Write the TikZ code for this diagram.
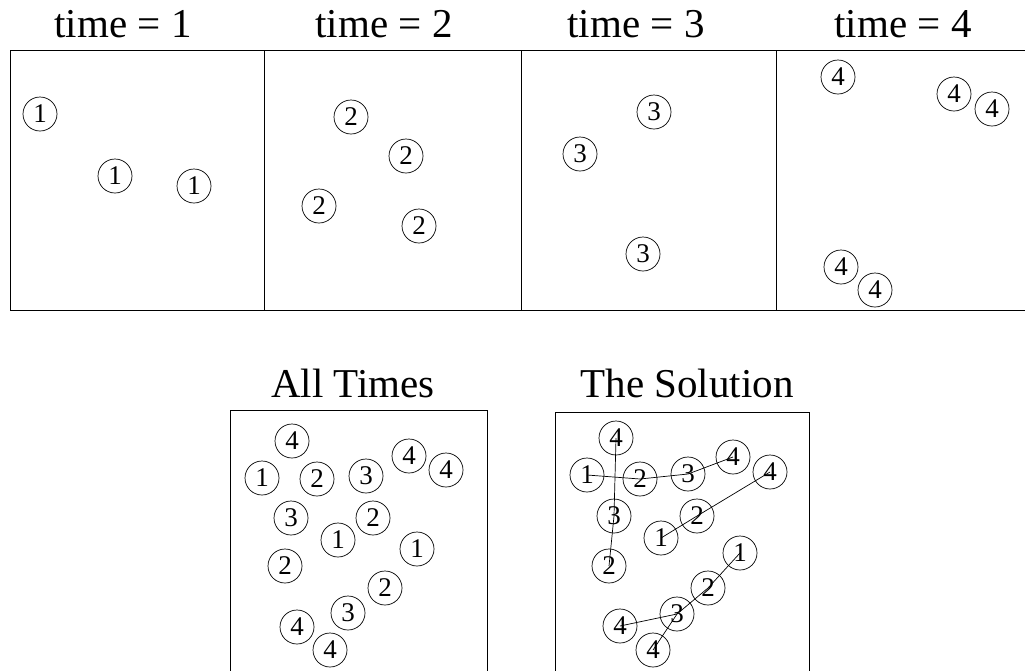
\documentclass[tikz,border=0pt]{standalone}
\usepackage{fontspec}
\setmainfont{Liberation Serif}
\begin{document}
\begin{tikzpicture}
[
    x=1pt, y=-1pt,
    blob/.style={draw, circle, line width=0.7pt, inner sep=0pt, minimum size=34pt, font=\fontsize{27}{27}\selectfont},
    heading/.style={anchor=base, inner sep=0pt, font=\fontsize{41}{41}\selectfont},
    frame/.style={line width=0.8pt},
    link/.style={line width=0.7pt}
]
    \useasboundingbox (0,0) rectangle (1025,670);

    % top row of snapshots
    \draw [frame] (10,50) -- (1025,50);
    \draw [frame] (10,310) -- (1025,310);
    \draw [frame] (10,50) -- (10,310);
    \draw [frame] (264,50) -- (264,310);
    \draw [frame] (521,50) -- (521,310);
    \draw [frame] (776,50) -- (776,310);

    \node [heading] (h1) at (123,37) {time = 1};
    \node [heading] (h2) at (384,37) {time = 2};
    \node [heading] (h3) at (636,37) {time = 3};
    \node [heading] (h4) at (903,37) {time = 4};

    \node [blob] (a1a) at (40,114) {1};
    \node [blob] (a1b) at (115,176) {1};
    \node [blob] (a1c) at (194,186) {1};

    \node [blob] (a2a) at (351,117) {2};
    \node [blob] (a2b) at (406,156) {2};
    \node [blob] (a2c) at (319,206) {2};
    \node [blob] (a2d) at (419,226) {2};

    \node [blob] (a3a) at (654,112) {3};
    \node [blob] (a3b) at (580,154) {3};
    \node [blob] (a3c) at (643,254) {3};

    \node [blob] (a4a) at (838,77) {4};
    \node [blob] (a4b) at (954,94) {4};
    \node [blob] (a4c) at (992,109) {4};
    \node [blob] (a4d) at (841,267) {4};
    \node [blob] (a4e) at (875,290) {4};

    % all times together
    \draw [frame] (230,675) -- (230,410) -- (487,410) -- (487,675);
    \node [heading] (hall) at (353,397) {All Times};

    \node [blob] (b4a) at (292,441) {4};
    \node [blob] (b1a) at (262,478) {1};
    \node [blob] (b2a) at (317,479) {2};
    \node [blob] (b3a) at (366,476) {3};
    \node [blob] (b4b) at (409,456) {4};
    \node [blob] (b4c) at (446,470) {4};
    \node [blob] (b3b) at (291,518) {3};
    \node [blob] (b2b) at (373,518) {2};
    \node [blob] (b1b) at (338,540) {1};
    \node [blob] (b1c) at (417,549) {1};
    \node [blob] (b2c) at (285,566) {2};
    \node [blob] (b2d) at (385,588) {2};
    \node [blob] (b3c) at (348,613) {3};
    \node [blob] (b4d) at (297,627) {4};
    \node [blob] (b4e) at (330,650) {4};

    % the tracks
    \draw [frame] (555,675) -- (555,412) -- (809,412) -- (809,675);
    \node [heading] (hsol) at (687,397) {The Solution};

    \node [blob] (c4a) at (616,438) {4};
    \node [blob] (c1a) at (587,475) {1};
    \node [blob] (c2a) at (640,479) {2};
    \node [blob] (c3a) at (688,474) {3};
    \node [blob] (c4b) at (733,457) {4};
    \node [blob] (c4c) at (770,472) {4};
    \node [blob] (c3b) at (614,516) {3};
    \node [blob] (c2b) at (697,516) {2};
    \node [blob] (c1b) at (661,538) {1};
    \node [blob] (c1c) at (740,553) {1};
    \node [blob] (c2c) at (609,566) {2};
    \node [blob] (c2d) at (708,588) {2};
    \node [blob] (c3c) at (677,614) {3};
    \node [blob] (c4d) at (620,626) {4};
    \node [blob] (c4e) at (653,650) {4};

    \draw [link] (c4a.center) -- (c3b.center) -- (c2c.center);
    \draw [link] (c1a.center) -- (c2a.center) -- (c3a.center) -- (c4b.center);
    \draw [link] (c1b.center) -- (c2b.center) -- (c4c.center);
    \draw [link] (c1c.center) -- (c2d.center) -- (c3c.center) -- (c4e.center);
    \draw [link] (c3c.center) -- (c4d.center);
\end{tikzpicture}
\end{document}
